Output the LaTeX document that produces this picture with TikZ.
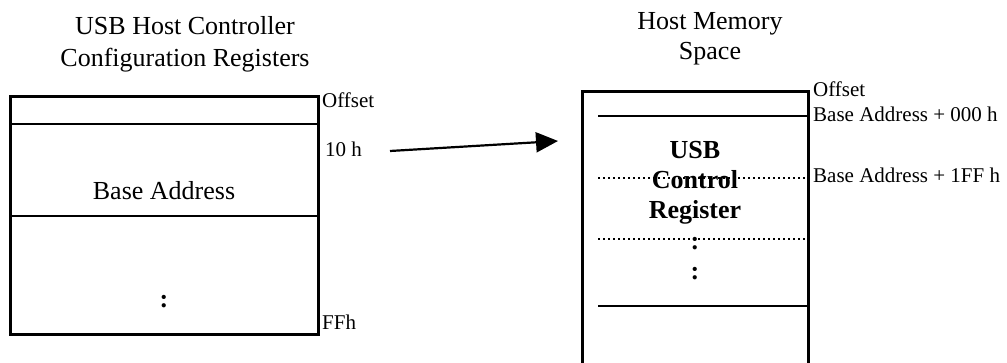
\documentclass[tikz,border=0pt]{standalone}
\usepackage{fontspec}
\setmainfont{Liberation Serif}
\usetikzlibrary{arrows.meta}

\begin{document}
\begin{tikzpicture}[x=1pt,y=-1pt,
  big/.style={font=\fontsize{26}{30}\selectfont, inner sep=0pt, anchor=base},
  bigbold/.style={font=\fontsize{26}{30}\selectfont\bfseries, inner sep=0pt, anchor=base},
  small/.style={font=\fontsize{21}{24}\selectfont, inner sep=0pt, anchor=base west},
  frame/.style={line width=3pt},
  divider/.style={line width=2.5pt},
  dotline/.style={line width=1.8pt, dash pattern=on 1.8pt off 3.2pt},
  pointer/.style={line width=2.2pt, -{Triangle[length=22pt,width=20pt]}}]
\useasboundingbox (0,0) rectangle (1007,363);

% ---- configuration register block ----
\node[big] (cfgtitleA) at (185,35) {USB Host Controller};
\node[big] (cfgtitleB) at (185,67) {Configuration Registers};
\draw[frame] (10,97) rectangle (318,335);
\draw[divider] (10,124) -- (318,124);
\draw[divider] (10,216) -- (318,216);
\node[big] (baseaddr) at (164,200) {Base Address};
\node[bigbold] (cfgdots) at (164,308) {:};
\node[small] (offA) at (322,108) {Offset};
\node[small] (tenh) at (325,157) {10 h};
\node[small] (ffh) at (322,330) {FFh};

% ---- host memory block ----
\node[big] (memtitleA) at (710,30) {Host Memory};
\node[big] (memtitleB) at (710,60) {Space};
\draw[frame] (582,372) -- (582,92) -- (808,92) -- (808,372);
\draw[divider] (598,116) -- (808,116);
\draw[dotline] (598,178) -- (808,178);
\draw[dotline] (598,239) -- (808,239);
\draw[divider] (598,306) -- (808,306);
\node[bigbold] (usbA) at (695,159) {USB};
\node[bigbold] (usbB) at (695,189) {Control};
\node[bigbold] (usbC) at (695,219) {Register};
\node[bigbold] (memdotsA) at (695,250) {:};
\node[bigbold] (memdotsB) at (695,280) {:};
\node[small] (offB) at (813,97) {Offset};
\node[small] (base0) at (813,122) {Base Address + 000 h};
\node[small] (base1) at (813,183) {Base Address + 1FF h};

% ---- mapping arrow ----
\coordinate (maptail) at (390,151);
\coordinate (maphead) at (558,141);
\draw[pointer] (maptail) -- (maphead);
\end{tikzpicture}
\end{document}
